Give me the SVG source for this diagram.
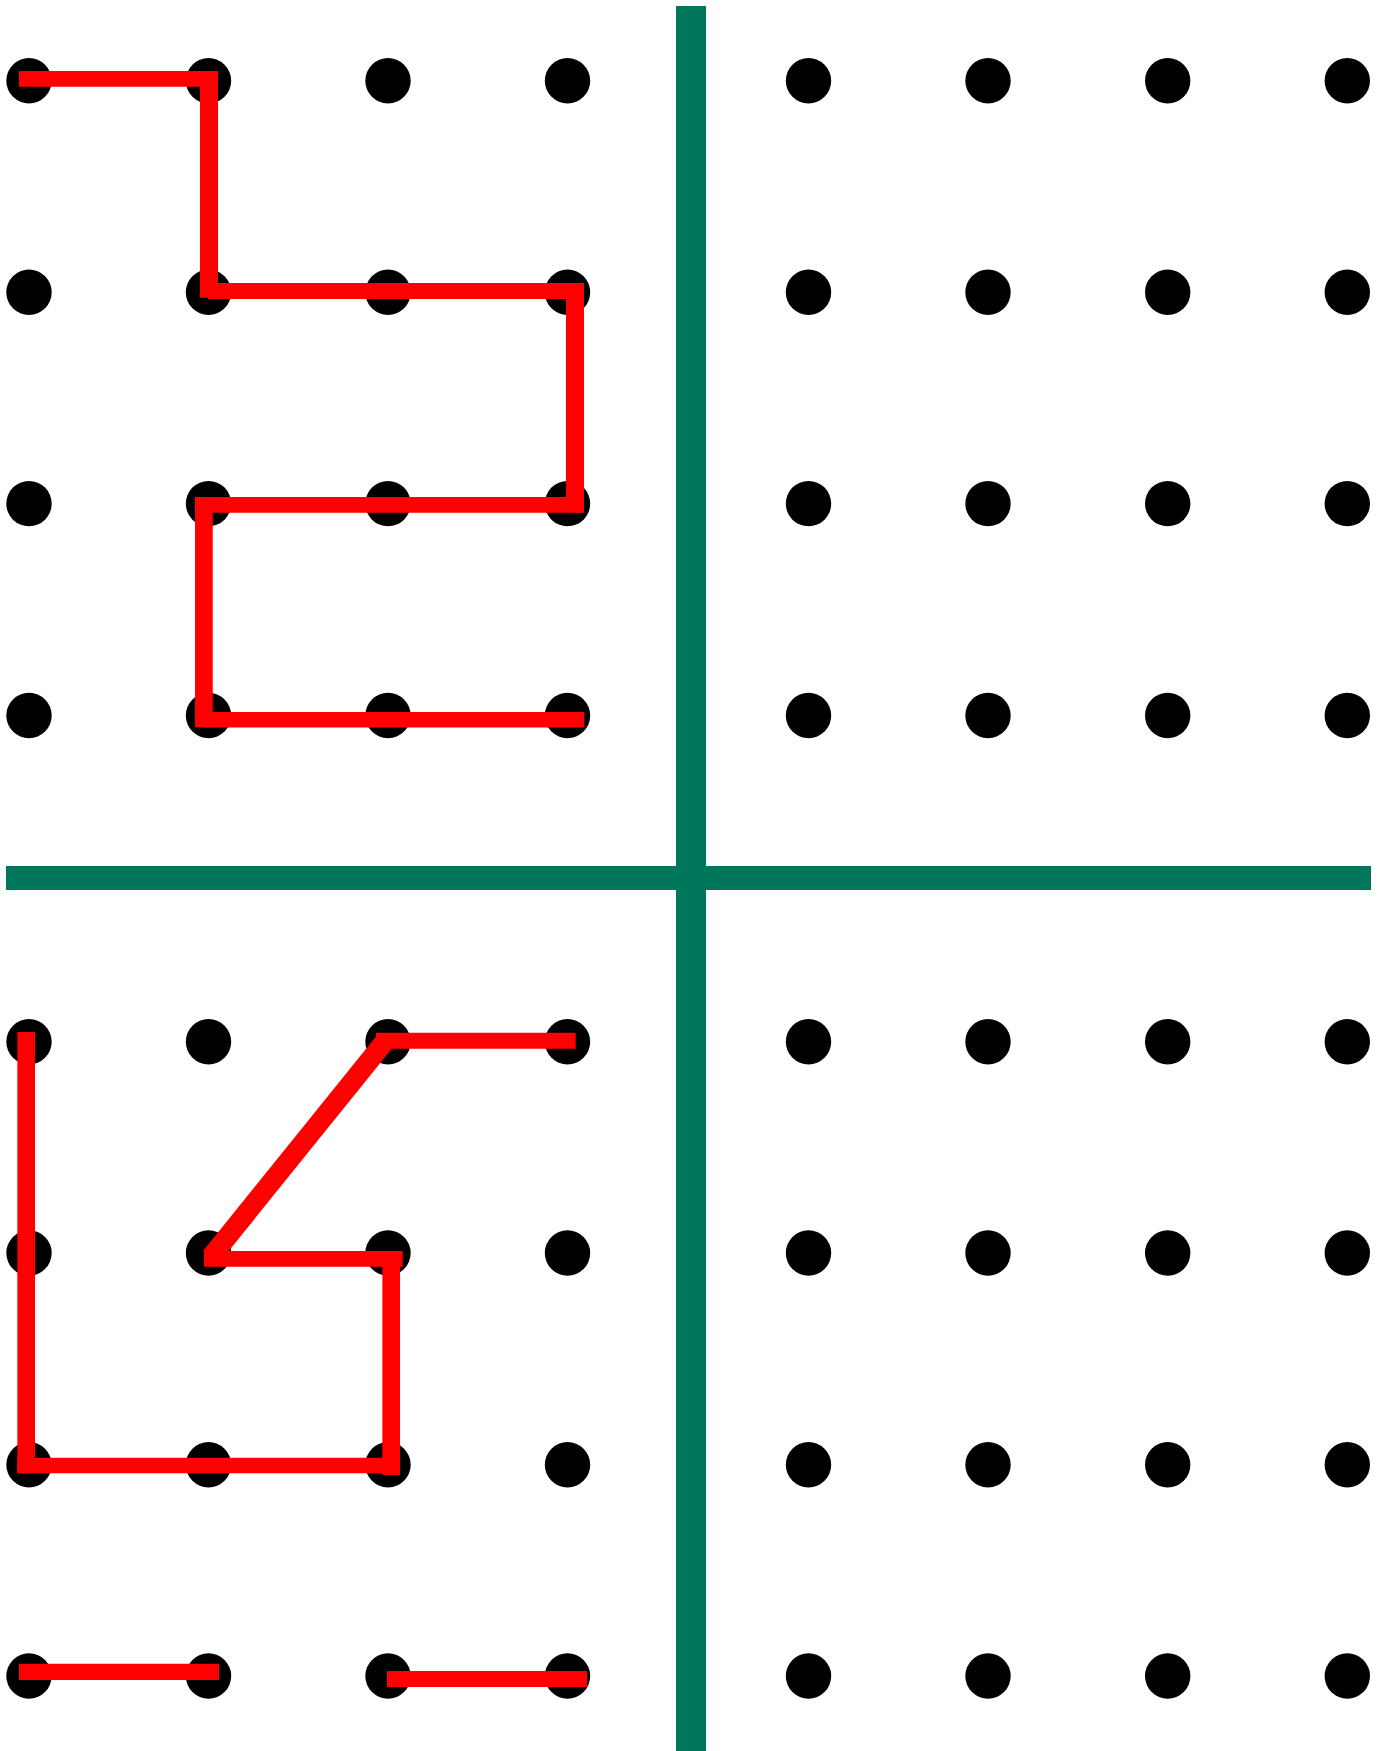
<svg xmlns="http://www.w3.org/2000/svg" width="1385" height="1751" viewBox="0 0 1385 1751">
<defs>
<style>
.dot{fill:#000}
.g{fill:#00765A}
.r{stroke:#FF0000;stroke-linecap:butt;fill:none}
</style>
<circle id="d" class="dot" r="22.7"/>
</defs>
<rect width="1385" height="1751" fill="#fff"/>
<g id="dividers">
<rect class="g" x="676" y="6" width="30" height="1745"/>
<rect class="g" x="6" y="866" width="1365" height="24"/>
</g>
<g id="dots">
<g id="row1"><use href="#d" x="29" y="80.7"/><use href="#d" x="208.5" y="80.7"/><use href="#d" x="388" y="80.7"/><use href="#d" x="567.5" y="80.7"/><use href="#d" x="808.5" y="80.7"/><use href="#d" x="988" y="80.7"/><use href="#d" x="1167.7" y="80.7"/><use href="#d" x="1347.3" y="80.7"/></g>
<g id="row2"><use href="#d" x="29" y="292.3"/><use href="#d" x="208.5" y="292.3"/><use href="#d" x="388" y="292.3"/><use href="#d" x="567.5" y="292.3"/><use href="#d" x="808.5" y="292.3"/><use href="#d" x="988" y="292.3"/><use href="#d" x="1167.7" y="292.3"/><use href="#d" x="1347.3" y="292.3"/></g>
<g id="row3"><use href="#d" x="29" y="503.6"/><use href="#d" x="208.5" y="503.6"/><use href="#d" x="388" y="503.6"/><use href="#d" x="567.5" y="503.6"/><use href="#d" x="808.5" y="503.6"/><use href="#d" x="988" y="503.6"/><use href="#d" x="1167.7" y="503.6"/><use href="#d" x="1347.3" y="503.6"/></g>
<g id="row4"><use href="#d" x="29" y="715.5"/><use href="#d" x="208.5" y="715.5"/><use href="#d" x="388" y="715.5"/><use href="#d" x="567.5" y="715.5"/><use href="#d" x="808.5" y="715.5"/><use href="#d" x="988" y="715.5"/><use href="#d" x="1167.7" y="715.5"/><use href="#d" x="1347.3" y="715.5"/></g>
<g id="row5"><use href="#d" x="29" y="1041.7"/><use href="#d" x="208.5" y="1041.7"/><use href="#d" x="388" y="1041.7"/><use href="#d" x="567.5" y="1041.7"/><use href="#d" x="808.5" y="1041.7"/><use href="#d" x="988" y="1041.7"/><use href="#d" x="1167.7" y="1041.7"/><use href="#d" x="1347.3" y="1041.7"/></g>
<g id="row6"><use href="#d" x="29" y="1253"/><use href="#d" x="208.5" y="1253"/><use href="#d" x="388" y="1253"/><use href="#d" x="567.5" y="1253"/><use href="#d" x="808.5" y="1253"/><use href="#d" x="988" y="1253"/><use href="#d" x="1167.7" y="1253"/><use href="#d" x="1347.3" y="1253"/></g>
<g id="row7"><use href="#d" x="29" y="1464.8"/><use href="#d" x="208.5" y="1464.8"/><use href="#d" x="388" y="1464.8"/><use href="#d" x="567.5" y="1464.8"/><use href="#d" x="808.5" y="1464.8"/><use href="#d" x="988" y="1464.8"/><use href="#d" x="1167.7" y="1464.8"/><use href="#d" x="1347.3" y="1464.8"/></g>
<g id="row8"><use href="#d" x="29" y="1676"/><use href="#d" x="208.5" y="1676"/><use href="#d" x="388" y="1676"/><use href="#d" x="567.5" y="1676"/><use href="#d" x="808.5" y="1676"/><use href="#d" x="988" y="1676"/><use href="#d" x="1167.7" y="1676"/><use href="#d" x="1347.3" y="1676"/></g>
</g>
<g id="connectors">
<line class="r" stroke-width="15.7" x1="19" y1="78.85" x2="218" y2="78.85"/>
<line class="r" stroke-width="18" x1="209" y1="71" x2="209" y2="297.7"/>
<line class="r" stroke-width="16" x1="208" y1="291" x2="584" y2="291"/>
<line class="r" stroke-width="18" x1="575" y1="283" x2="575" y2="512.3"/>
<line class="r" stroke-width="15.7" x1="195" y1="504.9" x2="584" y2="504.9"/>
<line class="r" stroke-width="17.7" x1="203.9" y1="497" x2="203.9" y2="727.3"/>
<line class="r" stroke-width="15.5" x1="203" y1="719.8" x2="584.3" y2="719.8"/>
<line class="r" stroke-width="17.7" x1="26.2" y1="1032" x2="26.2" y2="1473.3"/>
<line class="r" stroke-width="15.6" x1="17.3" y1="1465.5" x2="400" y2="1465.5"/>
<line class="r" stroke-width="17.7" x1="391.2" y1="1251" x2="391.2" y2="1475"/>
<line class="r" stroke-width="15.7" x1="204" y1="1258.8" x2="402.7" y2="1258.8"/>
<line class="r" stroke-width="20" x1="211" y1="1257" x2="386" y2="1040"/>
<line class="r" stroke-width="16" x1="376" y1="1040.7" x2="575.7" y2="1040.7"/>
<line class="r" stroke-width="16.3" x1="19" y1="1671.8" x2="219" y2="1671.8"/>
<line class="r" stroke-width="16" x1="387" y1="1679" x2="587" y2="1679"/>
</g>
</svg>
